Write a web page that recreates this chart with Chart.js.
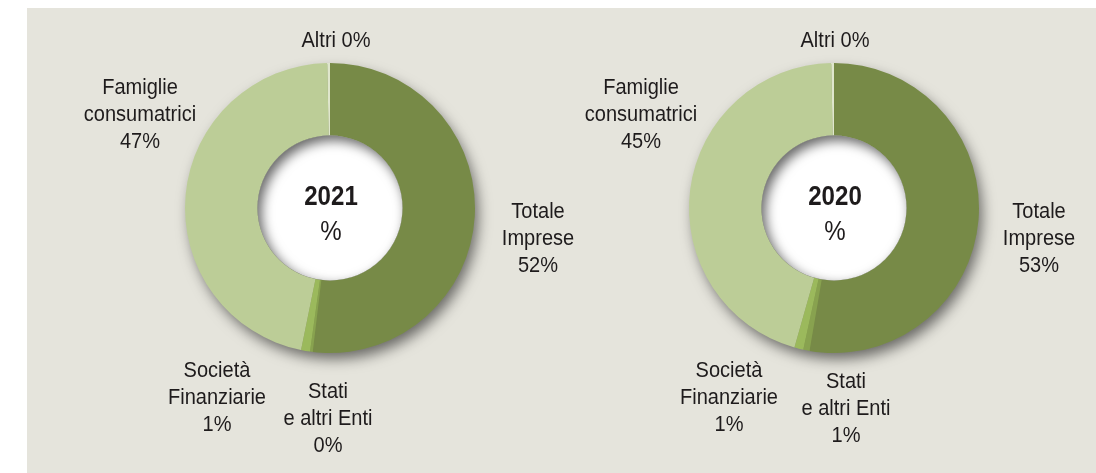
<!DOCTYPE html>
<html>
<head>
<meta charset="utf-8">
<script src="https://cdn.jsdelivr.net/npm/chart.js@4.4.1/dist/chart.umd.min.js"></script>
<style>
  html, body { margin:0; padding:0; background:#ffffff; }
  body { width:1096px; height:473px; position:relative; overflow:hidden; }
  #panel { position:absolute; left:27px; top:8px; right:0; bottom:0; background:#e5e4dc; }
  .box { position:absolute; top:0; left:0; width:1096px; height:473px; }
</style>
</head>
<body>
<div id="panel"></div>
<div class="box"><canvas id="c1"></canvas></div>
<div class="box"><canvas id="c2"></canvas></div>
<script>
// ---- data ----
const categories = ["Totale Imprese", "Stati e altri Enti", "Società Finanziarie", "Famiglie consumatrici", "Altri"];
const years = ["2021", "2020"];
const values2021 = [51.9, 0.3, 1.0, 46.5, 0.3];
const values2020 = [52.7, 0.7, 1.0, 45.3, 0.3];
const labels2021 = [["Totale", "Imprese", "52%"], ["Stati", "e altri Enti", "0%"], ["Società", "Finanziarie", "1%"], ["Famiglie", "consumatrici", "47%"], ["Altri 0%"]];
const labels2020 = [["Totale", "Imprese", "53%"], ["Stati", "e altri Enti", "1%"], ["Società", "Finanziarie", "1%"], ["Famiglie", "consumatrici", "45%"], ["Altri 0%"]];
const colors = ["#778a47", "#88a24f", "#9bb95c", "#bccd97", "#dfe6cc"];

// ---- layout (label offsets from donut centre, first-line baseline) ----
const layout2021 = [[208, 10], [-2, 190], [-113, 169], [-190, -114], [6, -161]];
const layout2020 = [[205, 10], [12, 180], [-105, 169], [-193, -114], [1, -161]];

const FONT = '"Liberation Sans", Arial, sans-serif';
const TEXT = '#1e1b1c';

function drawText(ctx, str, x, y, size, weight, sx) {
  ctx.save();
  ctx.font = weight + ' ' + size + 'px ' + FONT;
  ctx.translate(x, y);
  ctx.scale(sx, 1);
  ctx.textAlign = 'center';
  ctx.textBaseline = 'alphabetic';
  ctx.fillStyle = TEXT;
  ctx.fillText(str, 0, 0);
  ctx.restore();
}

const deco = {
  id: 'deco',
  beforeDatasetsDraw(chart) {
    const a = chart.getDatasetMeta(0).data[0];
    const ctx = chart.ctx;
    ctx.save();
    ctx.shadowColor = 'rgba(0,0,0,0.55)';
    ctx.shadowBlur = 14;
    ctx.shadowOffsetX = 4;
    ctx.shadowOffsetY = 7;
    ctx.beginPath();
    ctx.arc(a.x, a.y, a.outerRadius - 1, 0, Math.PI * 2);
    ctx.fillStyle = colors[0];
    ctx.fill();
    ctx.restore();
  },
  afterDatasetsDraw(chart) {
    const a = chart.getDatasetMeta(0).data[0];
    const ctx = chart.ctx;
    const r = a.innerRadius;
    ctx.save();
    ctx.beginPath();
    ctx.arc(a.x, a.y, r, 0, Math.PI * 2);
    ctx.clip();
    ctx.fillStyle = '#ffffff';
    ctx.fillRect(a.x - r - 2, a.y - r - 2, 2 * r + 4, 2 * r + 4);
    ctx.shadowColor = 'rgba(0,0,0,0.6)';
    ctx.shadowBlur = 12;
    ctx.shadowOffsetX = 4;
    ctx.shadowOffsetY = 5;
    ctx.beginPath();
    ctx.arc(a.x, a.y, r + 60, 0, Math.PI * 2);
    ctx.arc(a.x, a.y, r, 0, Math.PI * 2, true);
    ctx.fillStyle = '#888';
    ctx.fill();
    ctx.restore();
  },
  afterDraw(chart) {
    const o = chart.options.plugins.deco;
    const a = chart.getDatasetMeta(0).data[0];
    const ctx = chart.ctx;
    drawText(ctx, o.year, a.x + 1, a.y - 3, 28, 'bold', 0.86);
    drawText(ctx, '%', a.x + 1, a.y + 32, 28, 'normal', 0.86);
    o.texts.forEach((lines, i) => {
      const [dx, dy] = o.layout[i];
      lines.forEach((ln, k) => drawText(ctx, ln, a.x + dx, a.y + dy + k * 27, 22, 'normal', 0.91));
    });
  }
};

function makeChart(id, year, values, texts, lay, padding) {
  return new Chart(document.getElementById(id), {
    type: 'doughnut',
    data: {
      labels: categories,
      datasets: [{ data: values, backgroundColor: colors, borderWidth: 0, hoverOffset: 0 }]
    },
    options: {
      responsive: true,
      maintainAspectRatio: false,
      animation: false,
      events: [],
      cutout: '50%',
      rotation: 0,
      layout: { padding: padding },
      plugins: {
        legend: { display: false },
        tooltip: { enabled: false },
        deco: { year: year, texts: texts, layout: lay }
      }
    },
    plugins: [deco]
  });
}

makeChart('c1', years[0], values2021, labels2021, layout2021, { left: 185, right: 621, top: 63, bottom: 120 });
makeChart('c2', years[1], values2020, labels2020, layout2020, { left: 689, right: 117, top: 63, bottom: 120 });
</script>
</body>
</html>
